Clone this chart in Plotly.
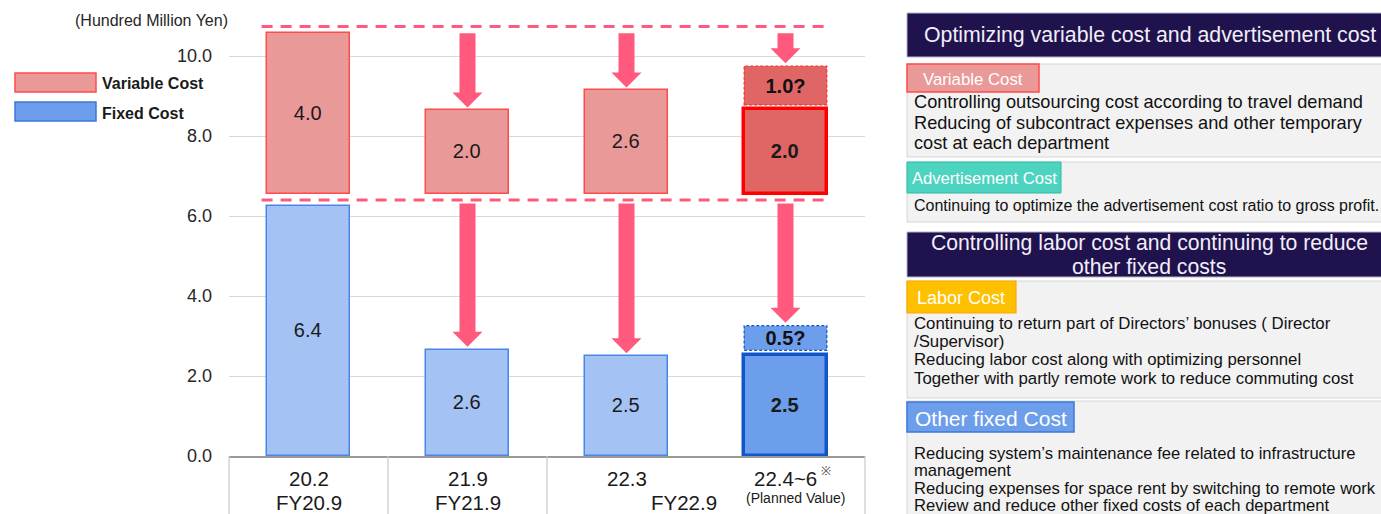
import plotly.graph_objects as go

# ---------------- data ----------------
period_labels = ["20.2", "21.9", "22.3", "22.4~6"]
fiscal_labels = ["FY20.9", "FY21.9", "FY22.9"]
fiscal_members = [[0], [1], [2, 3]]

variable_base = [6.55, 6.55, 6.55, 6.55]
variable_height = [4.02, 2.09, 2.59, 2.13]
variable_text = ["4.0", "2.0", "2.6", "<b>2.0</b>"]

fixed_height = [6.24, 2.66, 2.50, 2.52]
fixed_text = ["6.4", "2.6", "2.5", "<b>2.5</b>"]

variable_extra_base = [8.78]
variable_extra_height = [0.97]
variable_extra_text = ["<b>1.0?</b>"]

fixed_extra_base = [2.64]
fixed_extra_height = [0.62]
fixed_extra_text = ["<b>0.5?</b>"]

upper_level = 10.74
lower_level = 6.40
y_ticks = [0, 2, 4, 6, 8, 10]

legend_items = ["Variable Cost", "Fixed Cost"]

header_1 = ["Optimizing variable cost and advertisement cost"]
tag_variable = "Variable Cost"
body_variable = ["Controlling outsourcing cost according to travel demand",
                 "Reducing of subcontract expenses and other temporary",
                 "cost at each department"]
tag_adv = "Advertisement Cost"
body_adv = ["Continuing to optimize the advertisement cost ratio to gross profit."]
header_2 = ["Controlling labor cost and continuing to reduce", "other fixed costs"]
tag_labor = "Labor Cost"
body_labor = ["Continuing to return part of Directors\u2019 bonuses ( Director",
              "/Supervisor)",
              "Reducing labor cost along with optimizing personnel",
              "Together with partly remote work to reduce commuting cost"]
tag_other = "Other fixed Cost"
body_other = ["Reducing system\u2019s maintenance fee related to infrastructure",
              "management",
              "Reducing expenses for space rent by switching to remote work",
              "Review and reduce other fixed costs of each department"]

# ---------------- layout helpers ----------------
FONT = "Liberation Sans, Arial, sans-serif"
L, T, W, H = 229, 8, 636, 448
FIG_W, FIG_H = 1381, 514
n = len(period_labels)
xs = list(range(n))
BAR_W = 0.52


def px(p):
    return (p - L) / W


def py(p):
    return (T + H - p) / H


def cat_to_paper(c):
    return (c + 0.5) / n


VAR_FILL, VAR_LINE = "#EA9999", "#FF4B4B"
VAR_FILL_D, VAR_LINE_D = "#E06666", "#FF0000"
FIX_FILL, FIX_LINE = "#A4C2F4", "#4A86E8"
FIX_FILL_D, FIX_LINE_D = "#6D9EEB", "#1155CC"
PINK = "#FF5A7E"

fig = go.Figure()

# variable cost bars (floating)
fig.add_trace(go.Bar(
    x=xs, y=variable_height, base=variable_base, width=BAR_W,
    marker=dict(color=[VAR_FILL] * 3 + [VAR_FILL_D],
                line=dict(color=[VAR_LINE] * 3 + [VAR_LINE_D], width=[1.5] * 3 + [3.5])),
    text=variable_text, textposition="inside", insidetextanchor="middle",
    constraintext="none",
    textfont=dict(family=FONT, size=20, color="#1a1a1a"),
    hoverinfo="skip", showlegend=False))

# fixed cost bars
fig.add_trace(go.Bar(
    x=xs, y=fixed_height, width=BAR_W,
    marker=dict(color=[FIX_FILL] * 3 + [FIX_FILL_D],
                line=dict(color=[FIX_LINE] * 3 + [FIX_LINE_D], width=[1.5] * 3 + [3.5])),
    text=fixed_text, textposition="inside", insidetextanchor="middle",
    constraintext="none",
    textfont=dict(family=FONT, size=20, color="#1a1a1a"),
    hoverinfo="skip", showlegend=False))

# planned extra reductions (dashed boxes)
fig.add_trace(go.Bar(
    x=[n - 1], y=variable_extra_height, base=variable_extra_base, width=BAR_W,
    marker=dict(color=VAR_FILL_D, line=dict(width=0)),
    text=variable_extra_text, textposition="inside", insidetextanchor="middle",
    constraintext="none",
    textfont=dict(family=FONT, size=20, color="#111"),
    hoverinfo="skip", showlegend=False))
fig.add_trace(go.Bar(
    x=[n - 1], y=fixed_extra_height, base=fixed_extra_base, width=BAR_W,
    marker=dict(color=FIX_FILL_D, line=dict(width=0)),
    text=fixed_extra_text, textposition="inside", insidetextanchor="middle",
    constraintext="none",
    textfont=dict(family=FONT, size=20, color="#111"),
    hoverinfo="skip", showlegend=False))

shapes = []
annotations = []

for b, h, col in [(variable_extra_base[0], variable_extra_height[0], "#FF3030"),
                  (fixed_extra_base[0], fixed_extra_height[0], "#1155CC")]:
    shapes.append(dict(type="rect", xref="x", yref="y",
                       x0=n - 1 - BAR_W / 2, x1=n - 1 + BAR_W / 2, y0=b, y1=b + h,
                       line=dict(color=col, width=1.2, dash="3px,2px"),
                       fillcolor="rgba(0,0,0,0)", layer="above"))

# dashed reference lines
for lvl in [upper_level, lower_level]:
    shapes.append(dict(type="line", xref="x", yref="y",
                       x0=-BAR_W / 2 - 0.035, x1=n - 1 + BAR_W / 2 + 0.02, y0=lvl, y1=lvl,
                       line=dict(color=PINK, width=3, dash="11px,8px"), layer="above"))

# arrows
sw = 8 / (W / n)
hw = 15 / (W / n)
hl = 15 / 40.0
gap_top = 0.17
gap_tip = 0.07
var_targets = [variable_base[i] + variable_height[i] for i in range(n)]
var_targets[n - 1] = variable_extra_base[0] + variable_extra_height[0]
fix_targets = list(fixed_height)
fix_targets[n - 1] = fixed_extra_base[0] + fixed_extra_height[0]


def arrow(x, y0, ytip):
    yh = ytip + hl
    return (f"M {x - sw},{y0} L {x + sw},{y0} L {x + sw},{yh} L {x + hw},{yh} "
            f"L {x},{ytip} L {x - hw},{yh} L {x - sw},{yh} Z")


for i in range(1, n):
    shapes.append(dict(type="path", xref="x", yref="y",
                       path=arrow(xs[i], upper_level - gap_top, var_targets[i] + gap_tip),
                       fillcolor=PINK, line=dict(width=0), layer="above"))
    shapes.append(dict(type="path", xref="x", yref="y",
                       path=arrow(xs[i], lower_level - 0.09, fix_targets[i] + gap_tip),
                       fillcolor=PINK, line=dict(width=0), layer="above"))

# category table below the axis
GRID_C = "#C8C8C8"
boundaries = [-0.5]
for mem in fiscal_members:
    boundaries.append(mem[-1] + 0.5)
for bx in boundaries:
    shapes.append(dict(type="line", xref="paper", yref="paper",
                       x0=cat_to_paper(bx), x1=cat_to_paper(bx), y0=py(FIG_H + 2), y1=0,
                       line=dict(color=GRID_C, width=1.2)))

for i, lab in enumerate(period_labels):
    annotations.append(dict(xref="x", yref="paper", x=xs[i], y=py(478), text=lab,
                            showarrow=False, xanchor="center", yanchor="middle",
                            font=dict(family=FONT, size=20.5, color="#1a1a1a")))
annotations.append(dict(xref="paper", yref="paper", x=px(819), y=py(471), text="\u203b",
                        showarrow=False, xanchor="left", yanchor="middle",
                        font=dict(family=FONT, size=12, color="#444")))
annotations.append(dict(xref="x", yref="paper", x=xs[-1] + 0.06, y=py(498), text="(Planned Value)",
                        showarrow=False, xanchor="center", yanchor="middle",
                        font=dict(family=FONT, size=14, color="#1a1a1a")))
for lab, mem in zip(fiscal_labels, fiscal_members):
    cx = sum(mem) / len(mem)
    if len(mem) > 1:
        cx -= 0.14
    annotations.append(dict(xref="x", yref="paper", x=cx, y=py(503), text=lab,
                            showarrow=False, xanchor="center", yanchor="middle",
                            font=dict(family=FONT, size=20.5, color="#1a1a1a")))

# unit label
annotations.append(dict(xref="paper", yref="paper", x=px(230), y=py(21),
                        text="(Hundred Million Yen)", showarrow=False,
                        xanchor="right", yanchor="middle",
                        font=dict(family=FONT, size=16, color="#262626")))

# custom legend
legend_style = [(VAR_FILL, VAR_LINE), (FIX_FILL_D, "#3C78D8")]
for k, (name, (fc, lc)) in enumerate(zip(legend_items, legend_style)):
    y_top = 73 + k * 29
    shapes.append(dict(type="rect", xref="paper", yref="paper",
                       x0=px(15), x1=px(96), y0=py(y_top + 19), y1=py(y_top),
                       fillcolor=fc, line=dict(color=lc, width=1.5)))
    annotations.append(dict(xref="paper", yref="paper", x=px(100), y=py(y_top + 11),
                            text=f"<b>{name}</b>", showarrow=False,
                            xanchor="left", yanchor="middle",
                            font=dict(family=FONT, size=16, color="#1a1a1a")))

# ---------------- right panel ----------------
PX0, PX1 = 907, 1400
NAVY = "#20124D"


def rect(x0, y0, x1, y1, fill, line_c, lw=1):
    shapes.append(dict(type="rect", xref="paper", yref="paper",
                       x0=px(x0), x1=px(x1), y0=py(y1), y1=py(y0),
                       fillcolor=fill, line=dict(color=line_c, width=lw)))


def text(x, y, s, size, color="#111", anchor="left"):
    annotations.append(dict(xref="paper", yref="paper", x=px(x), y=py(y), text=s,
                            showarrow=False, xanchor=anchor, yanchor="middle",
                            font=dict(family=FONT, size=size, color=color)))


# header 1
rect(PX0, 13, PX1, 57, NAVY, "#b8b4c8", 1)
text(1150, 35, header_1[0], 21.3, "#F0EEF8", "center")
# box variable
rect(PX0, 64, PX1, 157, "#F2F2F2", "#D6D6D6", 1)
rect(PX0, 64, 1039, 92, VAR_FILL, "#FF4B4B", 1.5)
text(973, 79, tag_variable, 16.8, "#FFFFFF", "center")
for j, s in enumerate(body_variable):
    text(912, 102 + j * 20.7, s, 18.2)
# box advertisement
rect(PX0, 162, PX1, 222, "#F2F2F2", "#D6D6D6", 1)
rect(PX0, 162, 1061, 193, "#4DD4C1", "#2DBBA8", 1)
text(984, 178, tag_adv, 16.6, "#FFFFFF", "center")
for j, s in enumerate(body_adv):
    text(912, 205, s, 16.0)
# header 2
rect(PX0, 232, PX1, 277, NAVY, "#b8b4c8", 1)
for j, s in enumerate(header_2):
    text(1149, 243 + j * 23, s, 21.2, "#F0EEF8", "center")
# box labor
rect(PX0, 281, PX1, 398, "#F2F2F2", "#D6D6D6", 1)
rect(PX0, 281, 1016, 313, "#FFC000", "#FFA500", 1.2)
text(961, 298, tag_labor, 18, "#FFFFFF", "center")
for j, s in enumerate(body_labor):
    text(912, 323 + j * 18.4, s, 16.8)
# box other fixed
rect(PX0, 401, PX1, 525, "#F2F2F2", "#D6D6D6", 1)
rect(PX0, 402, 1074, 432, "#6D9EEB", "#3C78D8", 1.5)
text(991, 418, tag_other, 21, "#FFFFFF", "center")
for j, s in enumerate(body_other):
    text(912, 453.5 + j * 17.3, s, 16.6)

fig.update_layout(
    width=FIG_W, height=FIG_H,
    margin=dict(l=L, r=FIG_W - L - W, t=T, b=FIG_H - T - H, pad=0),
    paper_bgcolor="white", plot_bgcolor="white",
    barmode="overlay", bargap=0,
    shapes=shapes, annotations=annotations,
    font=dict(family=FONT, color="#222"),
    xaxis=dict(range=[-0.5, n - 0.5], showticklabels=False, showgrid=False,
               zeroline=False, showline=True, linecolor="#9A9A9A", linewidth=1.5,
               ticks="", fixedrange=True),
    yaxis=dict(range=[0, 11.2], tickvals=y_ticks, tickformat=".1f",
               showgrid=True, gridcolor="#D9D9D9", gridwidth=1.2,
               zeroline=False, showline=False, ticks="",
               ticklabelstandoff=16,
               tickfont=dict(family=FONT, size=18, color="#262626")),
)

fig.write_html("out.html")
